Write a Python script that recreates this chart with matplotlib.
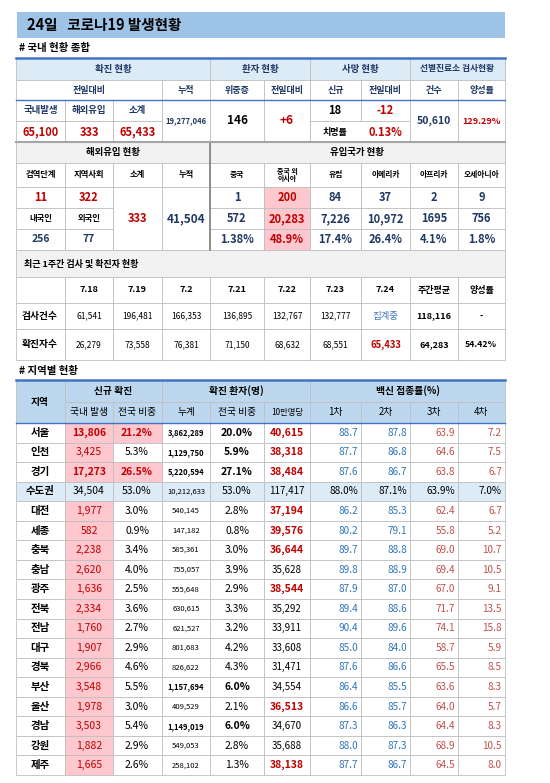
import matplotlib
matplotlib.use("Agg")
import matplotlib.pyplot as plt
from matplotlib.patches import Rectangle

plt.rcParams['font.family'] = ['Noto Sans CJK KR', 'DejaVu Sans']

# ---- data ----
title = "24일   코로나19 발생현황"
dom_new, imp_new, sub_new = "65,100", "333", "65,433"
cum_total = "19,277,046"
critical, critical_diff = "146", "+6"
death_new, death_diff, fatality = "18", "-12", "0.13%"
tests, positivity = "50,610", "129.29%"

imp_quarantine, imp_community = "11", "322"
imp_korean, imp_foreign = "256", "77"
imp_sub, imp_cum = "333", "41,504"
origin_names = ["중국", "중국 외\n아시아", "유럽", "아메리카", "아프리카", "오세아니아"]
origin_today = ["1", "200", "84", "37", "2", "9"]
origin_cum = ["572", "20,283", "7,226", "10,972", "1695", "756"]
origin_pct = ["1.38%", "48.9%", "17.4%", "26.4%", "4.1%", "1.8%"]

week_dates = ["7.18", "7.19", "7.2", "7.21", "7.22", "7.23", "7.24"]
week_tests = ["61,541", "196,481", "166,353", "136,895", "132,767", "132,777", "집계중"]
week_cases = ["26,279", "73,558", "76,381", "71,150", "68,632", "68,551", "65,433"]
week_avg_tests, week_avg_cases = "118,116", "64,283"
week_pos_tests, week_pos_cases = "-", "54.42%"

regions = ["서울", "인천", "경기", "수도권", "대전", "세종", "충북", "충남", "광주", "전북",
           "전남", "대구", "경북", "부산", "울산", "경남", "강원", "제주"]
reg_new = ["13,806", "3,425", "17,273", "34,504", "1,977", "582", "2,238", "2,620", "1,636",
           "2,334", "1,760", "1,907", "2,966", "3,548", "1,978", "3,503", "1,882", "1,665"]
reg_new_pct = ["21.2%", "5.3%", "26.5%", "53.0%", "3.0%", "0.9%", "3.4%", "4.0%", "2.5%",
               "3.6%", "2.7%", "2.9%", "4.6%", "5.5%", "3.0%", "5.4%", "2.9%", "2.6%"]
reg_cum = ["3,862,289", "1,129,750", "5,220,594", "10,212,633", "540,145", "147,182", "585,361",
           "755,057", "555,648", "630,615", "621,527", "801,683", "826,622", "1,157,694",
           "409,529", "1,149,019", "549,053", "258,102"]
reg_cum_pct = ["20.0%", "5.9%", "27.1%", "53.0%", "2.8%", "0.8%", "3.0%", "3.9%", "2.9%", "3.3%",
               "3.2%", "4.2%", "4.3%", "6.0%", "2.1%", "6.0%", "2.8%", "1.3%"]
reg_per100k = ["40,615", "38,318", "38,484", "117,417", "37,194", "39,576", "36,644", "35,628",
               "38,544", "35,292", "33,911", "33,608", "31,471", "34,554", "36,513", "34,670",
               "35,688", "38,138"]
vac1 = ["88.7", "87.7", "87.6", "88.0%", "86.2", "80.2", "89.7", "89.8", "87.9", "89.4", "90.4",
        "85.0", "87.6", "86.4", "86.6", "87.3", "88.0", "87.7"]
vac2 = ["87.8", "86.8", "86.7", "87.1%", "85.3", "79.1", "88.8", "88.9", "87.0", "88.6", "89.6",
        "84.0", "86.6", "85.5", "85.7", "86.3", "87.3", "86.7"]
vac3 = ["63.9", "64.6", "63.8", "63.9%", "62.4", "55.8", "69.0", "69.4", "67.0", "71.7", "74.1",
        "58.7", "65.5", "63.6", "64.0", "64.4", "68.9", "64.5"]
vac4 = ["7.2", "7.5", "6.7", "7.0%", "6.7", "5.2", "10.7", "10.5", "9.1", "13.5", "15.8",
        "5.9", "8.5", "8.3", "5.7", "8.3", "10.5", "8.0"]
bold_cum = {"서울", "인천", "경기", "부산", "경남"}
bold_100k = {"서울", "인천", "경기", "대전", "세종", "충북", "광주", "울산", "제주"}
hi_pct = {"서울", "경기"}

# ---- drawing ----
RED = "#C00000"; NAVY = "#1F3864"; BLUE = "#2E75B6"; DRED = "#C0504D"
LB = "#DDEBF7"; MB = "#BDD7EE"; PINK = "#FFC7CE"; GRAY = "#F2F2F2"; GL = "#BFBFBF"

fig = plt.figure(figsize=(5.5, 7.83), dpi=100)
ax = fig.add_axes([0, 0, 1, 1])
ax.set_xlim(0, 550); ax.set_ylim(783, 0); ax.axis("off")

X = [16, 65, 113, 162, 210, 264, 310, 361, 410, 458, 505]

def cell(x0, x1, y0, y1, fc="white", ec=GL, lw=0.6):
    ax.add_patch(Rectangle((x0, y0), x1 - x0, y1 - y0, fc=fc, ec=ec, lw=lw))

def t(x, y, s, size=7, color="black", bold=False, ha="center"):
    ax.text(x, y, s, fontsize=size, color=color, ha=ha, va="center",
            fontweight="bold" if bold else "normal", linespacing=1.0)

def hline(y, x0=16, x1=505, c="#4472C4", lw=1.8):
    ax.plot([x0, x1], [y, y], color=c, lw=lw)

# title
ax.add_patch(Rectangle((17, 12), 488, 26, fc="#9DC3E6", ec="none"))
t(27, 25, title, size=10.5, bold=True, ha="left")
t(19, 48, "# 국내 현황 종합", size=7.5, bold=True, ha="left")

# Table 1
for (a, b, s) in [(0, 4, "확진 현황"), (4, 6, "환자 현황"), (6, 8, "사망 현황"), (8, 10, "선별진료소 검사현황")]:
    cell(X[a], X[b], 58, 80, LB); t((X[a] + X[b]) / 2, 69, s, size=6.8 if a < 8 else 6.3, color=NAVY, bold=True)
cell(X[0], X[3], 80, 100); t((X[0] + X[3]) / 2, 90, "전일대비", 6.5, NAVY, True)
for i, s in zip(range(3, 10), ["누적", "위중증", "전일대비", "신규", "전일대비", "건수", "양성률"]):
    cell(X[i], X[i + 1], 80, 100); t((X[i] + X[i + 1]) / 2, 90, s, 6.5, NAVY, True)
for i, (lab, v) in enumerate(zip(["국내발생", "해외유입", "소계"], [dom_new, imp_new, sub_new])):
    cell(X[i], X[i + 1], 100, 121); t((X[i] + X[i + 1]) / 2, 110.5, lab, 6.8, NAVY, True)
    cell(X[i], X[i + 1], 121, 142); t((X[i] + X[i + 1]) / 2, 132, v, 8, RED, True)
cell(X[3], X[4], 100, 142); t(186, 121, cum_total, 5.5, NAVY, True)
cell(X[4], X[5], 100, 142); t(237, 121, critical, 8.5, "black", True)
cell(X[5], X[6], 100, 142); t(287, 121, critical_diff, 8.5, RED, True)
cell(X[6], X[7], 100, 121); t(335, 110.5, death_new, 8, "black", True)
cell(X[7], X[8], 100, 121); t(385, 110.5, death_diff, 8, RED, True)
cell(X[6], X[8], 121, 142); t(335, 132, "치명률", 6.5, "black", True); t(385, 132, fatality, 8, RED, True)
cell(X[8], X[9], 100, 142); t(434, 121, tests, 7.5, NAVY, True)
cell(X[9], X[10], 100, 142); t(481, 121, positivity, 6.5, RED, True)
hline(58); hline(100, lw=1.0)

# Table 2
cell(X[0], X[4], 142, 163, GRAY); t(113, 152.5, "해외유입 현황", 6.8, "black", True)
cell(X[4], X[10], 142, 163, GRAY); t(357, 152.5, "유입국가 현황", 6.8, "black", True)
for i, s in enumerate(["검역단계", "지역사회", "소계", "누적"]):
    cell(X[i], X[i + 1], 163, 187); t((X[i] + X[i + 1]) / 2, 175, s, 6, "black", True)
for j, s in enumerate(origin_names):
    i = j + 4
    cell(X[i], X[i + 1], 163, 187); t((X[i] + X[i + 1]) / 2, 175, s, 5 if j == 1 else 5.6, "black", True)
rows2 = [(187, 208), (208, 229), (229, 250)]
lt = [[(imp_quarantine, RED, 8), (imp_community, RED, 8)],
      [("내국인", "black", 6), ("외국인", "black", 6)],
      [(imp_korean, NAVY, 7.5), (imp_foreign, NAVY, 7.5)]]
for r, (y0, y1) in enumerate(rows2):
    for i in range(2):
        cell(X[i], X[i + 1], y0, y1); s, c, sz = lt[r][i]
        t((X[i] + X[i + 1]) / 2, (y0 + y1) / 2, s, sz, c, True)
    vals = [origin_today, origin_cum, origin_pct][r]
    for k in range(6):
        i = k + 4
        cell(X[i], X[i + 1], y0, y1, PINK if k == 1 else "white")
        t((X[i] + X[i + 1]) / 2, (y0 + y1) / 2, vals[k], 8, RED if k == 1 else NAVY, True)
cell(X[2], X[3], 187, 250); t(137, 218.5, imp_sub, 8, RED, True)
cell(X[3], X[4], 187, 250); t(186, 218.5, imp_cum, 8.5, NAVY, True)
ax.plot([210, 210], [142, 250], color="#808080", lw=1.2)
hline(142, c="#A6A6A6", lw=1.5)

# Table 3
cell(X[0], X[10], 250, 277, GRAY); t(24, 264, "최근 1주간 검사 및 확진자 현황", 6.5, "black", True, "left")
cell(X[0], X[1], 277, 303)
for i, s in enumerate(week_dates + ["주간평균", "양성률"]):
    cell(X[i + 1], X[i + 2], 277, 303); t((X[i + 1] + X[i + 2]) / 2, 290, s, 6.5, "black", True)
for (y0, y1), lab, vals, av, ps in [((303, 329), "검사건수", week_tests, week_avg_tests, week_pos_tests),
                                     ((329, 360), "확진자수", week_cases, week_avg_cases, week_pos_cases)]:
    ym = (y0 + y1) / 2
    cell(X[0], X[1], y0, y1); t(40, ym, lab, 7, "black", True)
    for i, v in enumerate(vals):
        cell(X[i + 1], X[i + 2], y0, y1)
        c = "black"
        if i == 6:
            c = "#4472C4" if v == "집계중" else RED
        t((X[i + 1] + X[i + 2]) / 2, ym, v, 6.8 if i == 6 else 6, c, i == 6 and c == RED)
    cell(X[8], X[9], y0, y1); t(434, ym, av, 6.5, "black", True)
    cell(X[9], X[10], y0, y1); t(481, ym, ps, 6.3, "black", True)

# Table 4
t(19, 371, "# 지역별 현황", 7.5, "black", True, "left")
cell(X[0], X[1], 380, 423, MB); t(40, 401.5, "지역", 7, "black", True)
for (a, b, s) in [(1, 3, "신규 확진"), (3, 6, "확진 환자(명)"), (6, 10, "백신 접종률(%)")]:
    cell(X[a], X[b], 380, 402, MB); t((X[a] + X[b]) / 2, 391, s, 7, "black", True)
for i, s in enumerate(["국내 발생", "전국 비중", "누계", "전국 비중", "10만명당", "1차", "2차", "3차", "4차"]):
    cell(X[i + 1], X[i + 2], 402, 423, MB)
    t((X[i + 1] + X[i + 2]) / 2, 412.5, s, 6 if i == 4 else 7, "black", False)
y = 423.0; rh = (775 - 423) / len(regions)
for r, name in enumerate(regions):
    y0, y1 = y + r * rh, y + (r + 1) * rh; ym = (y0 + y1) / 2
    cap = name == "수도권"
    base = "#DDEBF7" if cap else "white"
    cell(X[0], X[1], y0, y1, base); t(40, ym, name, 7.5, "black", True)
    cell(X[1], X[2], y0, y1, base if cap else PINK)
    t(89, ym, reg_new[r], 7.5, "black" if cap else RED, name in hi_pct)
    cell(X[2], X[3], y0, y1, PINK if name in hi_pct else base)
    t(137, ym, reg_new_pct[r], 7.5, RED if name in hi_pct else "black", name in hi_pct)
    cell(X[3], X[4], y0, y1, base)
    t(186, ym, reg_cum[r], 5.5, "black", name in bold_cum)
    cell(X[4], X[5], y0, y1, base)
    t(237, ym, reg_cum_pct[r], 7.5, "black", name in bold_cum or name in hi_pct)
    cell(X[5], X[6], y0, y1, base)
    b100 = name in bold_100k
    t(287, ym, reg_per100k[r], 7.5 if b100 else 7, RED if b100 else "black", b100)
    for k, vals in enumerate([vac1, vac2, vac3, vac4]):
        i = k + 6
        cell(X[i], X[i + 1], y0, y1, base)
        c = "black" if cap else (BLUE if k < 2 else DRED)
        t(X[i + 1] - 3, ym, vals[r], 7.2, c, False, "right")
hline(380); hline(423, lw=1.0)

fig.savefig("out.png", dpi=100)
